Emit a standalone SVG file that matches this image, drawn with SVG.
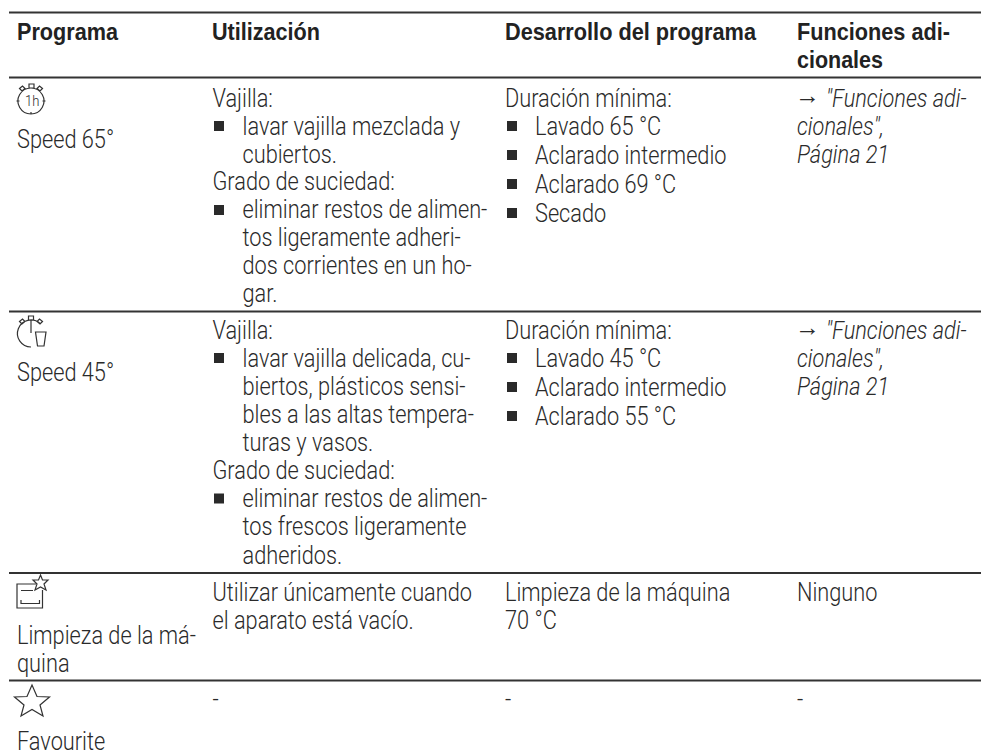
<svg xmlns="http://www.w3.org/2000/svg" width="981" height="755" viewBox="0 0 981 755">
<style>
text{font-family:"Roboto","Liberation Sans",sans-serif;font-size:25px;font-weight:300;fill:#2a2a2a;transform-box:fill-box;transform-origin:0 0;transform:scaleX(.87)}
text.h{font-weight:700;font-family:"Liberation Sans",sans-serif;font-size:24.5px;fill:#222;transform:none}
.i{font-style:italic}
text.a{transform:none}
.s{font-size:15px}
.r{stroke:#333;stroke-width:1.8;fill:none}
.ic{stroke:#333;stroke-width:1.2;fill:none}
.b{fill:#2a2a2a}
</style>
<rect width="981" height="755" fill="#fff"/>
<g id="rules">
<path class="r" d="M9 12.500H981M9 77.500H981M9 311.500H981M9 573H981M9 680.500H981"/>
</g>
<g id="header">
<text class="h" x="17" y="40" textLength="101" lengthAdjust="spacingAndGlyphs">Programa</text>
<text class="h" x="212" y="40" textLength="108" lengthAdjust="spacingAndGlyphs">Utilización</text>
<text class="h" x="505" y="40" textLength="251" lengthAdjust="spacingAndGlyphs">Desarrollo del programa</text>
<text class="h" x="797" y="40" textLength="153" lengthAdjust="spacingAndGlyphs">Funciones adi-</text>
<text class="h" x="797" y="68" textLength="86" lengthAdjust="spacingAndGlyphs">cionales</text>
</g>
<g id="row1">
<g id="icon-1h" class="ic"><path d="M31 88A13 13 0 1 1 30.900 88M29 84h5v4h-5zM19.500 88.500l3-2.500 2.500 2.500-3 2.500zM42.500 88.500l-3-2.500-2.500 2.500 3 2.500zM16.500 101h3M42.500 101h3M31 112v2"/></g>
<text class="s" x="25" y="106">1h</text>
<text x="17" y="148">Speed 65°</text>
<text x="212.500" y="107">Vajilla:</text>
<rect class="b" x="214" y="121" width="10" height="10"/>
<text x="242.500" y="135">lavar vajilla mezclada y</text>
<text x="242.500" y="163">cubiertos.</text>
<text x="212.500" y="190.500">Grado de suciedad:</text>
<rect class="b" x="214" y="205" width="10" height="10"/>
<text x="242.500" y="218.500">eliminar restos de alimen-</text>
<text x="242.500" y="246">tos ligeramente adheri-</text>
<text x="242.500" y="274">dos corrientes en un ho-</text>
<text x="242.500" y="302">gar.</text>
<text x="505" y="107">Duración mínima:</text>
<rect class="b" x="507" y="121" width="10" height="10"/>
<text x="535" y="135.500">Lavado 65 °C</text>
<rect class="b" x="507" y="150" width="10" height="10"/>
<text x="535" y="164">Aclarado intermedio</text>
<rect class="b" x="507" y="179" width="10" height="10"/>
<text x="535" y="193">Aclarado 69 °C</text>
<rect class="b" x="507" y="208" width="10" height="10"/>
<text x="535" y="222">Secado</text>
<text class="a" x="795" y="104">→</text>
<text class="i" x="826" y="107">"Funciones adi-</text>
<text class="i" x="797" y="135">cionales",</text>
<text class="i" x="797" y="163">Página 21</text>
</g>
<g id="row2">
<g id="icon-speed" class="ic"><path d="M31 347A13.500 13.500 0 1 1 40 323.500M31 320.500V333M28.500 316h5v4h-5zM19.500 321.500l3-2.500 2.500 2.500-3 2.500zM42.500 321.500l-3-2.500-2.500 2.500 3 2.500zM35.500 332H46L44 346H37.500z"/></g>
<text x="17" y="381">Speed 45°</text>
<text x="212.500" y="339">Vajilla:</text>
<rect class="b" x="214" y="353" width="10" height="10"/>
<text x="242.500" y="367">lavar vajilla delicada, cu-</text>
<text x="242.500" y="395">biertos, plásticos sensi-</text>
<text x="242.500" y="423">bles a las altas tempera-</text>
<text x="242.500" y="451">turas y vasos.</text>
<text x="212.500" y="479">Grado de suciedad:</text>
<rect class="b" x="214" y="493.500" width="10" height="10"/>
<text x="242.500" y="507.500">eliminar restos de alimen-</text>
<text x="242.500" y="535.500">tos frescos ligeramente</text>
<text x="242.500" y="564">adheridos.</text>
<text x="505" y="339">Duración mínima:</text>
<rect class="b" x="507" y="353" width="10" height="10"/>
<text x="535" y="367.500">Lavado 45 °C</text>
<rect class="b" x="507" y="382" width="10" height="10"/>
<text x="535" y="396">Aclarado intermedio</text>
<rect class="b" x="507" y="411" width="10" height="10"/>
<text x="535" y="425">Aclarado 55 °C</text>
<text class="a" x="795" y="336">→</text>
<text class="i" x="826" y="339">"Funciones adi-</text>
<text class="i" x="797" y="367">cionales",</text>
<text class="i" x="797" y="395">Página 21</text>
</g>
<g id="row3">
<g id="icon-clean" class="ic"><path d="M36 584H17V608H42.500V590M21 590.500H33M21 600V603.500H39.500V600"/><path d="M40.500 575l2 5 5.500 0-4 4 2 6-5.500-3-5.500 3 2-6-4-4 5.500 0z"/></g>
<text x="17" y="644">Limpieza de la má-</text>
<text x="17" y="672">quina</text>
<text x="212.500" y="601">Utilizar únicamente cuando</text>
<text x="212.500" y="629">el aparato está vacío.</text>
<text x="505" y="601">Limpieza de la máquina</text>
<text x="505" y="629">70 °C</text>
<text x="797" y="601">Ninguno</text>
</g>
<g id="row4">
<g id="icon-star" class="ic"><path d="M32 685l5 11.500 12.500.500-9.500 8 3 11-11-6.500-11 6.500 3-11-9.500-8 12.500-.500z"/></g>
<text x="17" y="750">Favourite</text>
<text x="212.500" y="708">-</text>
<text x="505" y="708">-</text>
<text x="797" y="708">-</text>
</g>
</svg>
